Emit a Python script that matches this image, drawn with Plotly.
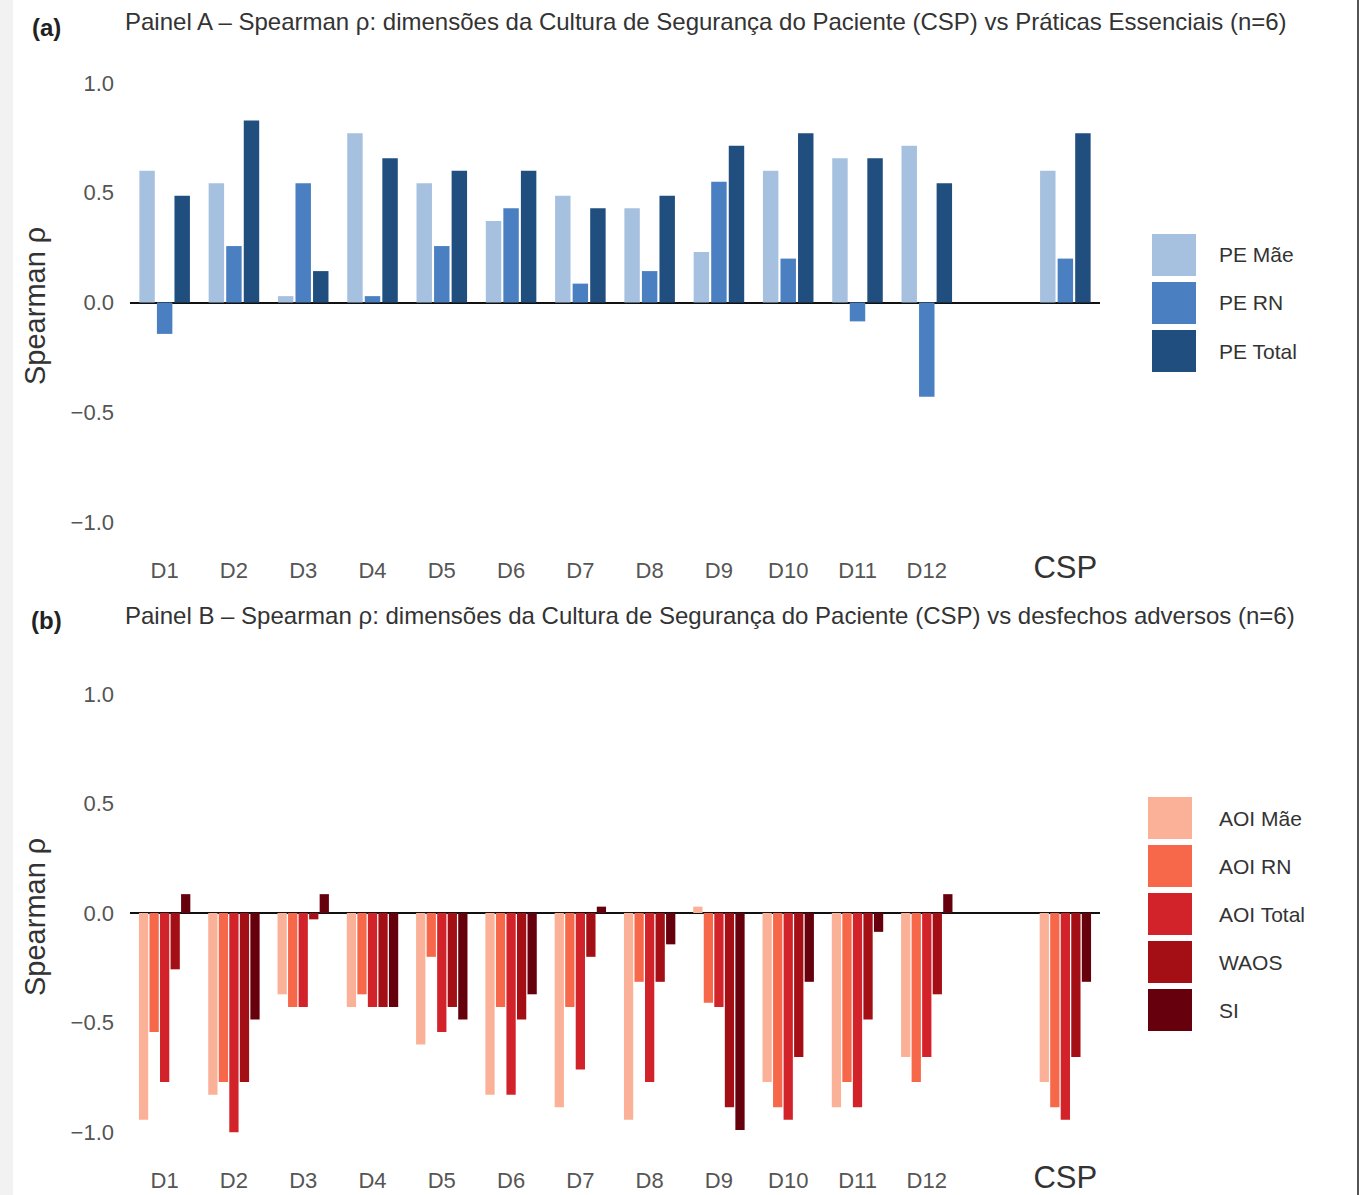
import plotly.graph_objects as go

# ---------------- data ----------------
dims = ["D1", "D2", "D3", "D4", "D5", "D6", "D7", "D8", "D9", "D10", "D11", "D12"]
bar_cats = dims + ["CSP"]
axis_cats = dims + ["gap", "CSP"]
axis_labels = dims + ["", "CSP"]
y_ticks = [1.0, 0.5, 0.0, -0.5, -1.0]
y_ticklabels = ["1.0", "0.5", "0.0", "\u22120.5", "\u22121.0"]

pe_names = ["PE Mãe", "PE RN", "PE Total"]
pe_mae = [0.600, 0.543, 0.029, 0.771, 0.543, 0.371, 0.486, 0.429, 0.230, 0.600, 0.657, 0.714, 0.600]
pe_rn = [-0.143, 0.257, 0.543, 0.029, 0.257, 0.429, 0.086, 0.143, 0.550, 0.200, -0.086, -0.429, 0.200]
pe_total = [0.486, 0.829, 0.143, 0.657, 0.600, 0.600, 0.429, 0.486, 0.714, 0.771, 0.657, 0.543, 0.771]

ad_names = ["AOI Mãe", "AOI RN", "AOI Total", "WAOS", "SI"]
aoi_mae = [-0.943, -0.829, -0.371, -0.429, -0.600, -0.829, -0.886, -0.943, 0.029, -0.771, -0.886, -0.657, -0.771]
aoi_rn = [-0.543, -0.771, -0.429, -0.371, -0.200, -0.429, -0.429, -0.314, -0.410, -0.886, -0.771, -0.771, -0.886]
aoi_total = [-0.771, -1.000, -0.429, -0.429, -0.543, -0.829, -0.714, -0.771, -0.429, -0.943, -0.886, -0.657, -0.943]
waos = [-0.257, -0.771, -0.029, -0.429, -0.429, -0.486, -0.200, -0.314, -0.886, -0.657, -0.486, -0.371, -0.657]
si = [0.086, -0.486, 0.086, -0.429, -0.486, -0.371, 0.029, -0.143, -0.990, -0.314, -0.086, 0.086, -0.314]

title_a = "Painel A \u2013 Spearman \u03c1: dimensões da Cultura de Segurança do Paciente (CSP) vs Práticas Essenciais (n=6)"
title_b = "Painel B \u2013 Spearman \u03c1: dimensões da Cultura de Segurança do Paciente (CSP) vs desfechos adversos (n=6)"

# ---------------- styles ----------------
W, H = 1361, 1195
FONT = "Liberation Sans, Arial, sans-serif"
pe_colors = ["#a6c1e0", "#4a7fc1", "#1f4e7f"]
ad_colors = ["#fbb198", "#f7674a", "#d2232a", "#a40f16", "#67000d"]


def px(v):
    return v / W


def py(v):
    return 1 - v / H


fig = go.Figure()

for name, vals, col in zip(pe_names, [pe_mae, pe_rn, pe_total], pe_colors):
    fig.add_trace(go.Bar(x=bar_cats, y=vals, name=name, marker=dict(color=col, line=dict(width=0)),
                         xaxis="x", yaxis="y", offsetgroup=name, showlegend=False))

for name, vals, col in zip(ad_names, [aoi_mae, aoi_rn, aoi_total, waos, si], ad_colors):
    fig.add_trace(go.Bar(x=bar_cats, y=vals, name=name, marker=dict(color=col, line=dict(width=0)),
                         xaxis="x2", yaxis="y2", offsetgroup=name, showlegend=False))

csp_text = "<span style='font-size:31px;color:#333333'>CSP</span>"
tick_text = axis_labels[:-1] + [csp_text]

xcommon = dict(type="category", categoryorder="array", categoryarray=axis_cats,
               range=[-0.5, len(axis_cats) - 0.5], tickmode="array", tickvals=axis_cats,
               ticktext=tick_text, showgrid=False, showline=False, zeroline=False, ticks="",
               tickfont=dict(family=FONT, size=22, color="#555555"), domain=[px(130), px(1100)])
ycommon = dict(range=[-1.15, 1.15], tickmode="array", tickvals=y_ticks, ticktext=y_ticklabels,
               showgrid=False, showline=False, zeroline=True, zerolinecolor="#111111", zerolinewidth=2,
               ticks="", ticklabelstandoff=15, tickfont=dict(family=FONT, size=22, color="#555555"))

fig.update_layout(
    width=W, height=H, autosize=False,
    margin=dict(l=0, r=0, t=0, b=0),
    paper_bgcolor="white", plot_bgcolor="white",
    barmode="group", bargap=0.24, bargroupgap=0.12,
    showlegend=False,
    xaxis=dict(xcommon, anchor="y"),
    yaxis=dict(ycommon, domain=[py(555), py(50)], anchor="x"),
    xaxis2=dict(xcommon, anchor="y2"),
    yaxis2=dict(ycommon, domain=[py(1165), py(661)], anchor="x2"),
)

annotations = []
shapes = []

# panel labels and titles
for lab, ttl, yc in [("(a)", title_a, 22), ("(b)", title_b, 615)]:
    annotations.append(dict(text="<b>" + lab + "</b>", x=px(46), y=py(yc + 5), xref="paper", yref="paper",
                            xanchor="center", yanchor="middle", showarrow=False,
                            font=dict(family=FONT, size=24, color="#222222")))
    annotations.append(dict(text=ttl, x=px(123), y=py(yc), xref="paper", yref="paper",
                            xanchor="left", yanchor="middle", showarrow=False,
                            font=dict(family=FONT, size=24, color="#333333")))

# y-axis titles
for yc in [306, 917]:
    annotations.append(dict(text="Spearman \u03c1", x=px(35), y=py(yc), xref="paper", yref="paper",
                            xanchor="center", yanchor="middle", textangle=-90, showarrow=False,
                            font=dict(family=FONT, size=29, color="#333333")))


# legends (swatches + labels)
def add_legend(names, colors, x0, y_first, step=48, sw=44, sh=42):
    for i, (n, c) in enumerate(zip(names, colors)):
        top = y_first + i * step
        shapes.append(dict(type="rect", xref="paper", yref="paper", x0=px(x0), x1=px(x0 + sw),
                           y0=py(top + sh), y1=py(top), fillcolor=c, line=dict(width=0), layer="above"))
        annotations.append(dict(text=n, x=px(1217), y=py(top + sh / 2), xref="paper", yref="paper",
                                xanchor="left", yanchor="middle", showarrow=False,
                                font=dict(family=FONT, size=21, color="#333333")))


add_legend(pe_names, pe_colors, 1152, 234)
add_legend(ad_names, ad_colors, 1148, 797)

# page border decoration
shapes.append(dict(type="rect", xref="paper", yref="paper", x0=0, x1=px(13), y0=0, y1=1,
                   fillcolor="#f2f2f2", line=dict(width=0), layer="below"))
shapes.append(dict(type="line", xref="paper", yref="paper", x0=px(1358), x1=px(1358), y0=0, y1=1,
                   line=dict(color="#555555", width=2)))

fig.update_layout(annotations=annotations, shapes=shapes)

fig.write_html("out.html", config={"displayModeBar": False},
               post_script="document.body.style.margin='0px';document.body.style.overflow='hidden';")
